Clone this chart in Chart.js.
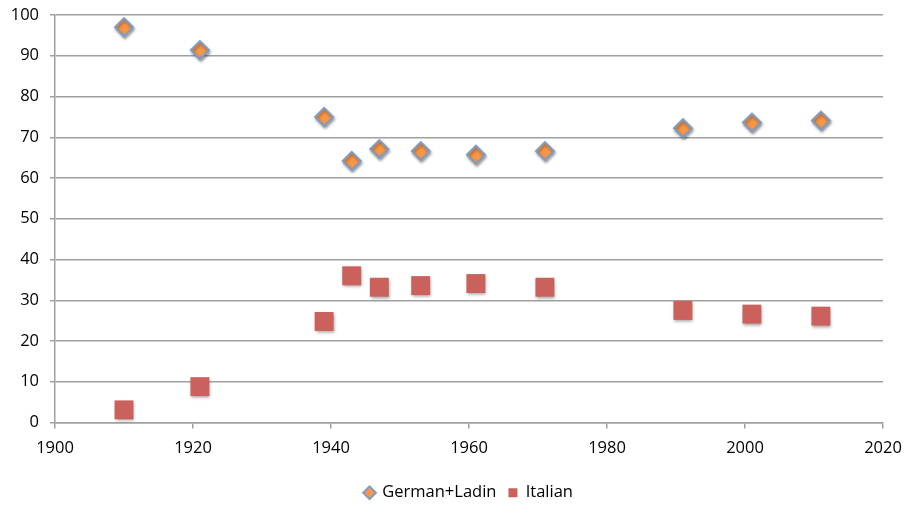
<!DOCTYPE html>
<html>
<head>
<meta charset="utf-8">
<script src="https://cdn.jsdelivr.net/npm/chart.js@4/dist/chart.umd.min.js"></script>
<style>
  html, body { margin: 0; padding: 0; background: #fff; }
  #wrap { width: 906px; height: 507px; }
</style>
</head>
<body>
<div id="wrap"><canvas id="langChart"></canvas></div>
<script>
const years = [1910, 1921, 1939, 1943, 1947, 1953, 1961, 1971, 1991, 2001, 2011];
const germanLadin = [97.0, 91.4, 75.0, 64.2, 67.1, 66.6, 65.7, 66.6, 72.2, 73.6, 74.1];
const italian = [3.1, 8.8, 24.8, 36.0, 33.2, 33.6, 34.1, 33.2, 27.5, 26.6, 26.1];

const toPoints = vals => vals.map((v, i) => ({ x: years[i], y: v }));

const shadow = {
    id: 'shadow',
    beforeDatasetsDraw(chart) {
        const c = chart.ctx;
        c.save();
        c.shadowColor = 'rgba(0,0,0,0.35)';
        c.shadowBlur = 3;
        c.shadowOffsetX = 1;
        c.shadowOffsetY = 2;
    },
    afterDatasetsDraw(chart) {
        chart.ctx.restore();
    }
};

const font = { family: 'Open Sans', size: 16.5 };

const ctx = document.getElementById('langChart').getContext('2d');
const langChart = new Chart(ctx, {
    type: 'scatter',
    data: {
        datasets: [{
            label: 'German+Ladin',
            data: toPoints(germanLadin),
            pointStyle: 'rectRot',
            pointRadius: 9,
            pointHoverRadius: 9,
            backgroundColor: '#F79646',
            borderColor: '#7F9CC6',
            borderWidth: 2
        }, {
            label: 'Italian',
            data: toPoints(italian),
            pointStyle: 'rect',
            pointRadius: 13.4,
            pointHoverRadius: 13.4,
            backgroundColor: '#CB615D',
            borderColor: '#CB615D',
            borderWidth: 0
        }]
    },
    options: {
        responsive: true,
        maintainAspectRatio: false,
        animation: false,
        clip: false,
        layout: { padding: { left: 0, right: 23, top: 15, bottom: -4 } },
        plugins: {
            tooltip: { enabled: false },
            legend: {
                position: 'bottom',
                fullSize: false,
                labels: {
                    usePointStyle: true,
                    boxWidth: 9,
                    boxHeight: 9,
                    padding: 12,
                    color: '#000',
                    font: font
                }
            }
        },
        scales: {
            x: {
                type: 'linear',
                min: 1900,
                max: 2020,
                ticks: { stepSize: 20, color: '#000', font: font, padding: 10, callback: v => String(v) },
                grid: { drawOnChartArea: false, drawTicks: true, tickLength: 6, color: '#A0A0A0', lineWidth: 1.5 },
                border: { color: '#A0A0A0', width: 1.5 },
                afterFit: s => { s.height = 50; s.paddingLeft = 0; s.paddingRight = 0; }
            },
            y: {
                min: 0,
                max: 100,
                ticks: { stepSize: 10, color: '#000', font: font, padding: 11 },
                grid: { tickLength: 5, color: '#A0A0A0', lineWidth: 1.5 },
                border: { color: '#A0A0A0', width: 1.5 },
                afterFit: s => { s.width = 55; s.paddingTop = 0; s.paddingBottom = 0; }
            }
        }
    },
    plugins: [shadow]
});
</script>
</body>
</html>
